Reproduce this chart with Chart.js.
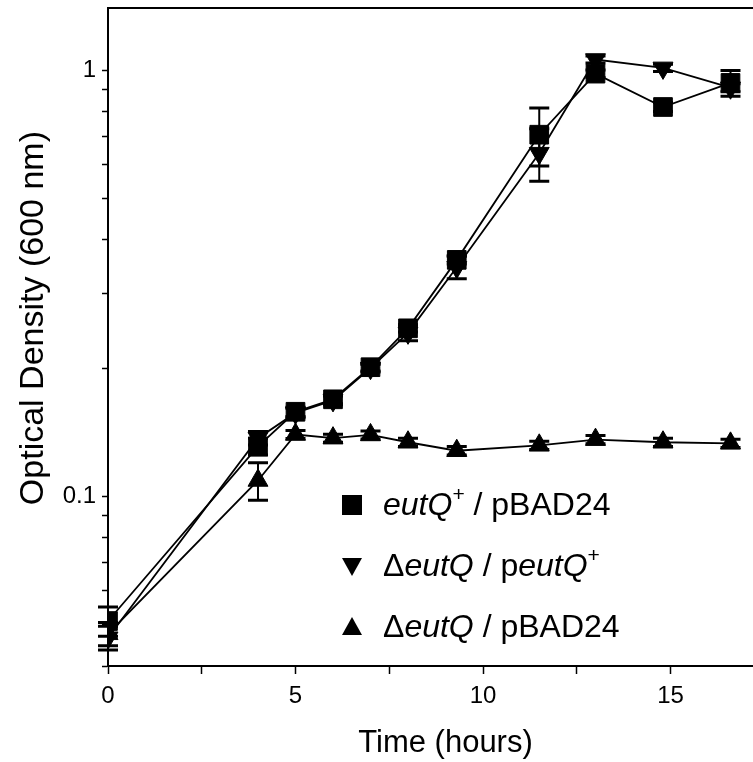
<!DOCTYPE html>
<html>
<head>
<meta charset="utf-8">
<script src="https://cdn.jsdelivr.net/npm/chart.js@4.4.0/dist/chart.umd.min.js"></script>
<style>
  html, body { margin: 0; padding: 0; background: #fff; overflow: hidden; }
  canvas { display: block; }
</style>
</head>
<body>
<canvas id="chart_growthCurve" width="785" height="762"></canvas>
<script>
// sampling times (hours)
const hours = [0, 4, 5, 6, 7, 8, 9.3, 11.5, 13, 14.8, 16.6];

// eutQ+ / pBAD24 (squares)
const odWildType = [0.051, 0.131, 0.158, 0.169, 0.201, 0.248, 0.359, 0.706, 0.982, 0.82, 0.934];
const errWildType = [0.004, 0.006, 0.004, 0.004, 0.004, 0.005, 0.008, 0.11, 0.02, 0.02, 0.065];

// deltaEutQ / peutQ+ (down triangles)
const odComplemented = [0.0466, 0.137, 0.157, 0.168, 0.2, 0.242, 0.345, 0.639, 1.06, 1.013, 0.91];
const errComplemented = [0.003, 0.005, 0.004, 0.004, 0.004, 0.01, 0.021, 0.09, 0.02, 0.02, 0.02];

// deltaEutQ / pBAD24 (up triangles)
const odDeletion = [0.0476, 0.109, 0.1397, 0.137, 0.1394, 0.134, 0.128, 0.1318, 0.1359, 0.134, 0.1332];
const errDeletion = [0.003, 0.011, 0.003, 0.003, 0.003, 0.003, 0.003, 0.003, 0.003, 0.003, 0.003];

const xTicks = [0, 2.5, 5, 7.5, 10, 12.5, 15, 17.5];
const xLabels = [0, 5, 10, 15];
const yTicks = [0.04, 0.05, 0.06, 0.07, 0.08, 0.09, 0.1, 0.2, 0.3, 0.4, 0.5, 0.6, 0.7, 0.8, 0.9, 1];
const yLabels = [0.1, 1];

const FONT = '"Liberation Sans", Arial, Helvetica, sans-serif';

function points(ys) {
  return hours.map((h, i) => ({ x: h, y: ys[i] }));
}

const errorBars = {
  id: 'errorBars',
  beforeDatasetsDraw(chart) {
    const ctx = chart.ctx;
    const xs = chart.scales.x, ys = chart.scales.y;
    ctx.save();
    ctx.strokeStyle = '#000';
    chart.data.datasets.forEach(ds => {
      ds.errors.forEach((e, i) => {
        const px = xs.getPixelForValue(ds.data[i].x);
        const top = ys.getPixelForValue(ds.data[i].y + e);
        const bot = ys.getPixelForValue(ds.data[i].y - e);
        ctx.lineWidth = 2;
        ctx.beginPath();
        ctx.moveTo(px, top);
        ctx.lineTo(px, bot);
        ctx.stroke();
        ctx.lineWidth = 3;
        ctx.beginPath();
        ctx.moveTo(px - 10, top); ctx.lineTo(px + 10, top);
        ctx.moveTo(px - 10, bot); ctx.lineTo(px + 10, bot);
        ctx.stroke();
      });
    });
    ctx.restore();
  }
};

const frameTop = {
  id: 'frameTop',
  afterDraw(chart) {
    const ctx = chart.ctx, a = chart.chartArea;
    ctx.save();
    ctx.strokeStyle = '#000';
    ctx.lineWidth = 2;
    ctx.beginPath();
    ctx.moveTo(a.left - 1, a.top);
    ctx.lineTo(a.right, a.top);
    ctx.stroke();
    ctx.restore();
  }
};

// legend drawn by hand: it needs italics, superscripts and a delta
const legendRows = [
  { marker: 'square', parts: [{ t: 'eutQ', i: true }, { t: '+', sup: true }, { t: ' / pBAD24' }] },
  { marker: 'down', parts: [{ t: '\u0394' }, { t: 'eutQ', i: true }, { t: ' / p' }, { t: 'eutQ', i: true }, { t: '+', sup: true }] },
  { marker: 'up', parts: [{ t: '\u0394' }, { t: 'eutQ', i: true }, { t: ' / pBAD24' }] }
];

const richLegend = {
  id: 'richLegend',
  afterDraw(chart) {
    const ctx = chart.ctx;
    ctx.save();
    ctx.fillStyle = '#000';
    ctx.textBaseline = 'alphabetic';
    legendRows.forEach((row, r) => {
      const baseline = 515 + r * 61;
      const mx = 352, my = baseline - 10;
      ctx.beginPath();
      if (row.marker === 'square') {
        ctx.rect(mx - 10, my - 10, 20, 20);
      } else if (row.marker === 'down') {
        ctx.moveTo(mx - 10, my - 8); ctx.lineTo(mx + 10, my - 8); ctx.lineTo(mx, my + 10);
      } else {
        ctx.moveTo(mx - 10, my + 8); ctx.lineTo(mx + 10, my + 8); ctx.lineTo(mx, my - 10);
      }
      ctx.closePath();
      ctx.fill();
      let x = 383;
      row.parts.forEach(p => {
        const size = p.sup ? 21 : 32;
        ctx.font = (p.i ? 'italic ' : '') + size + 'px ' + FONT;
        ctx.fillText(p.t, x, baseline - (p.sup ? 14 : 0));
        x += ctx.measureText(p.t).width;
      });
    });
    ctx.restore();
  }
};

const lineStyle = {
  borderColor: '#000',
  borderWidth: 1.8,
  backgroundColor: '#000',
  pointBackgroundColor: '#000',
  pointBorderColor: '#000',
  pointBorderWidth: 1,
  tension: 0,
  fill: false
};

var chart_growthCurve = new Chart(document.getElementById('chart_growthCurve'), {
  type: 'line',
  data: {
    datasets: [
      Object.assign({}, lineStyle, {
        label: 'ΔeutQ / pBAD24',
        data: points(odDeletion),
        errors: errDeletion,
        pointStyle: 'triangle',
        pointRadius: 11.5
      }),
      Object.assign({}, lineStyle, {
        label: 'ΔeutQ / peutQ+',
        data: points(odComplemented),
        errors: errComplemented,
        pointStyle: 'triangle',
        pointRotation: 180,
        pointRadius: 11.5
      }),
      Object.assign({}, lineStyle, {
        label: 'eutQ+ / pBAD24',
        data: points(odWildType),
        errors: errWildType,
        pointStyle: 'rect',
        pointRadius: 13.2
      })
    ]
  },
  options: {
    animation: false,
    responsive: false,
    layout: { autoPadding: false, padding: { top: 8, right: 2, left: 0, bottom: 0 } },
    plugins: {
      legend: { display: false },
      tooltip: { enabled: false }
    },
    scales: {
      x: {
        type: 'linear',
        min: 0,
        max: 18,
        afterBuildTicks: scale => { scale.ticks = xTicks.map(v => ({ value: v })); },
        afterFit: scale => {
          scale.height = 96;
          scale.paddingLeft = 0;
          scale.paddingRight = 0;
        },
        ticks: {
          autoSkip: false,
          maxRotation: 0,
          padding: 8,
          color: '#000',
          font: { family: FONT, size: 24 },
          callback: value => xLabels.includes(value) ? String(value) : ''
        },
        grid: {
          drawOnChartArea: false,
          drawTicks: true,
          tickLength: 8,
          tickWidth: 1.5,
          tickColor: '#000'
        },
        border: { color: '#000', width: 2 },
        title: {
          display: true,
          text: 'Time (hours)',
          color: '#000',
          font: { family: FONT, size: 31 },
          padding: { top: 0, bottom: 0 }
        }
      },
      y: {
        type: 'logarithmic',
        min: 0.04,
        max: 1.4,
        afterBuildTicks: scale => { scale.ticks = yTicks.map(v => ({ value: v })); },
        afterFit: scale => {
          scale.width = 108;
          scale.paddingTop = 0;
          scale.paddingBottom = 0;
        },
        ticks: {
          autoSkip: false,
          padding: 6,
          color: '#000',
          font: { family: FONT, size: 24 },
          callback: value => yLabels.includes(value) ? String(value) : ''
        },
        grid: {
          drawOnChartArea: false,
          drawTicks: true,
          tickLength: 6,
          tickWidth: 1.5,
          tickColor: '#000'
        },
        border: { color: '#000', width: 2 },
        title: {
          display: true,
          // leading spaces nudge the title up, as in the original figure
          text: '    Optical Density (600 nm)',
          color: '#000',
          font: { family: FONT, size: 34 },
          padding: { top: 13, bottom: 0 }
        }
      }
    }
  },
  plugins: [errorBars, frameTop, richLegend, {
    id: 'whiteBackground',
    beforeDraw: (chart) => {
      const ctx = chart.canvas.getContext('2d');
      ctx.save();
      ctx.globalCompositeOperation = 'destination-over';
      ctx.fillStyle = 'white';
      ctx.fillRect(0, 0, chart.canvas.width, chart.canvas.height);
      ctx.restore();
    }
  }]
});
</script>
</body>
</html>
